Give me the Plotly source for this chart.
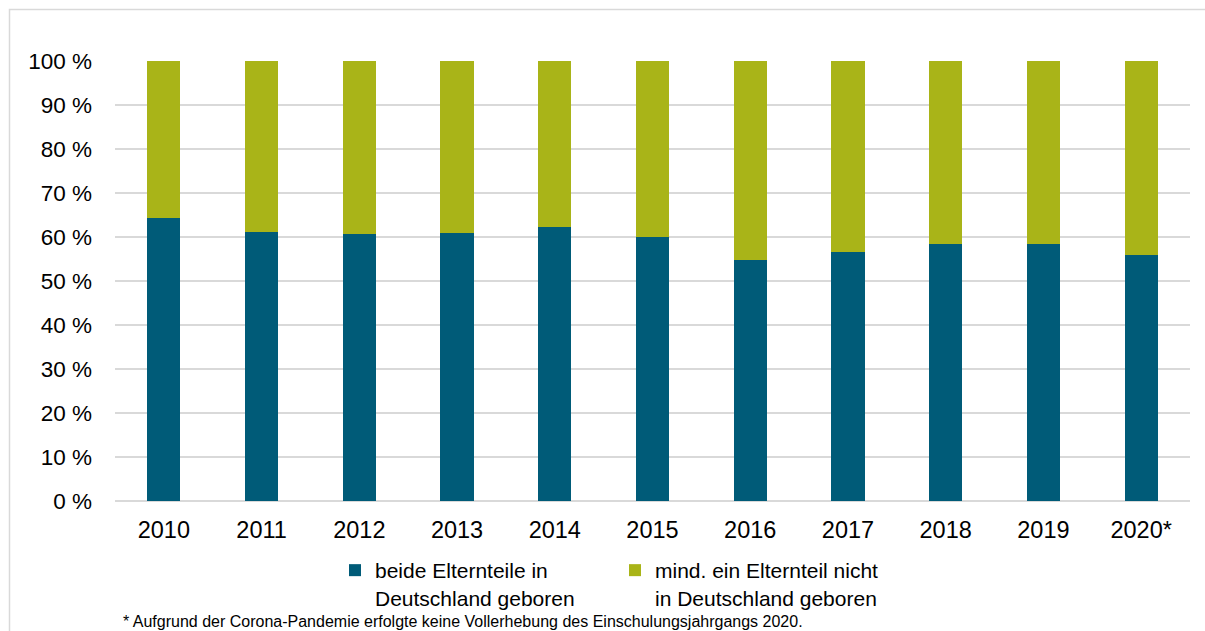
import plotly.graph_objects as go

years = ["2010", "2011", "2012", "2013", "2014", "2015", "2016", "2017", "2018", "2019", "2020*"]
beide = [64.4, 61.2, 60.7, 60.8, 62.3, 60.1, 54.8, 56.7, 58.3, 58.5, 55.8]
mind = [round(100 - v, 1) for v in beide]
y_ticks = [0, 10, 20, 30, 40, 50, 60, 70, 80, 90, 100]
y_labels = ["0 %", "10 %", "20 %", "30 %", "40 %", "50 %", "60 %", "70 %", "80 %", "90 %", "100 %"]

FONT = "Liberation Sans, Arial, sans-serif"
BLUE = "#005B78"
GREEN = "#A9B418"

fig = go.Figure()
fig.add_trace(go.Bar(x=years, y=beide, name="beide Elternteile in<br>Deutschland geboren",
                     marker=dict(color=BLUE, line=dict(width=0))))
fig.add_trace(go.Bar(x=years, y=mind, name="mind. ein Elternteil nicht<br>in Deutschland geboren",
                     marker=dict(color=GREEN, line=dict(width=0))))

W, H = 1205, 631
L, R, T, B = 115, 15, 61, 130
pw, ph = W - L - R, H - T - B

def px(x):
    return (x - L) / pw

def py(y):
    return (H - B - y) / ph

fig.update_layout(
    width=W, height=H,
    barmode="stack", bargap=0.66,
    margin=dict(l=L, r=R, t=T, b=B),
    paper_bgcolor="white", plot_bgcolor="white",
    font=dict(family=FONT, color="#000000", size=20),
    showlegend=True,
    legend=dict(orientation="h", xanchor="left", yanchor="top",
                x=px(335), y=py(550), valign="top",
                font=dict(size=21, family=FONT), entrywidth=235,
                traceorder="normal", bgcolor="rgba(0,0,0,0)",
                itemclick=False),
    xaxis=dict(showgrid=False, showline=False, ticks="", tickfont=dict(size=23.5),
               ticklabelstandoff=12),
    yaxis=dict(range=[0, 100], tickvals=y_ticks, ticktext=y_labels,
               showgrid=True, gridcolor="#d9d9d9", gridwidth=1.5,
               zeroline=True, zerolinecolor="#d9d9d9", zerolinewidth=1.5,
               showline=False, ticks="", tickfont=dict(size=22.5),
               ticklabelstandoff=22),
    annotations=[dict(text="* Aufgrund der Corona-Pandemie erfolgte keine Vollerhebung des Einschulungsjahrgangs 2020.",
                      xref="paper", yref="paper", x=px(121), y=py(621), xanchor="left", yanchor="middle",
                      showarrow=False, font=dict(size=16, family=FONT))],
    shapes=[dict(type="rect", xref="paper", yref="paper",
                 x0=px(9.5), y0=py(640), x1=px(1215), y1=py(9.5),
                 line=dict(color="#d9d9d9", width=1.5), fillcolor="rgba(0,0,0,0)", layer="below")],
)

fig.write_html("out.html", config={"displayModeBar": False},
               post_script="document.body.style.margin='0px';")
